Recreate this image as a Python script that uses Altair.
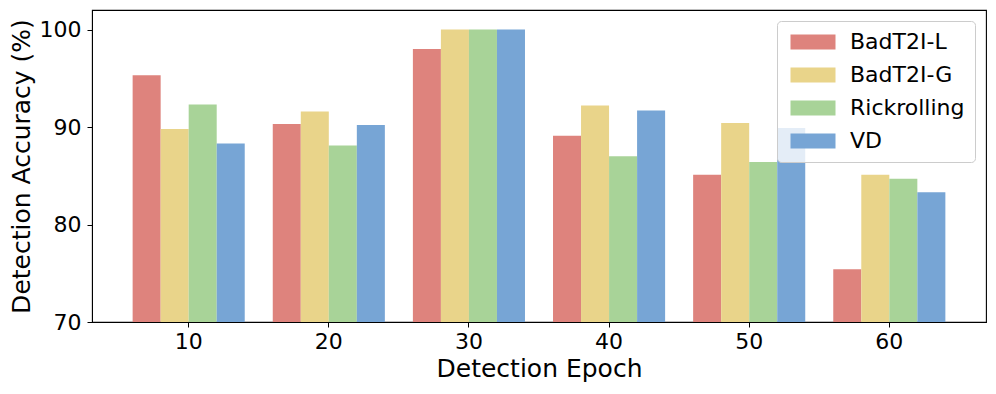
import altair as alt
import pandas as pd

epochs = ["10", "20", "30", "40", "50", "60"]
methods = ["BadT2I-L", "BadT2I-G", "Rickrolling", "VD"]
badt2i_l = [95.3, 90.3, 98.0, 89.1, 85.1, 75.4]
badt2i_g = [89.8, 91.6, 100.0, 92.2, 90.4, 85.1]
rickrolling = [92.3, 88.1, 100.0, 87.0, 86.4, 84.7]
vd = [88.3, 90.2, 100.0, 91.7, 89.9, 83.3]
colors = ["#DE837D", "#E9D48A", "#A8D398", "#77A5D5"]

series = [badt2i_l, badt2i_g, rickrolling, vd]
rows = []
for m, vals in zip(methods, series):
    for e, v in zip(epochs, vals):
        rows.append({"Epoch": e, "Method": m, "Accuracy": v})
df = pd.DataFrame(rows)

FONT = "DejaVu Sans"

chart = alt.Chart(df).mark_bar().encode(
    x=alt.X("Epoch:N", sort=epochs,
            scale=alt.Scale(paddingInner=0.2, paddingOuter=0.29),
            axis=alt.Axis(title="Detection Epoch", labelAngle=0, labelFontSize=22,
                          titleFontSize=25, labelFont=FONT, titleFont=FONT,
                          tickSize=5, labelPadding=4, tickColor="black",
                          domainColor="black", labelColor="black", titleColor="black",
                          titleFontWeight="normal", titleBaseline="alphabetic",
                          titlePadding=24, grid=False)),
    xOffset=alt.XOffset("Method:N", sort=methods),
    y=alt.Y("Accuracy:Q",
            scale=alt.Scale(domain=[70, 102], zero=False, nice=False, clamp=True),
            axis=alt.Axis(title="Detection Accuracy (%)", values=[70, 80, 90, 100],
                          labelFontSize=22, titleFontSize=25, labelFont=FONT, titleFont=FONT,
                          tickSize=5, labelPadding=6, tickColor="black",
                          domainColor="black", labelColor="black", titleColor="black",
                          titleFontWeight="normal", titleBaseline="alphabetic",
                          titlePadding=10, grid=False)),
    y2=alt.datum(70),
    color=alt.Color("Method:N", sort=methods,
                    scale=alt.Scale(domain=methods, range=colors),
                    legend=alt.Legend(title=None, orient="none", legendX=685, legendY=11,
                                      labelFontSize=22, labelFont=FONT, labelColor="black",
                                      symbolType="M-1,-1L5,-1L5,1L-1,1Z",
                                      symbolSize=225, symbolStrokeWidth=0, symbolOpacity=1,
                                      labelOffset=41, rowPadding=11, padding=10,
                                      strokeColor="#cccccc", fillColor="rgba(255,255,255,0.8)",
                                      cornerRadius=4)),
).properties(
    width=894, height=312,
    padding={"left": 84, "top": 2, "right": 2, "bottom": 64},
    autosize=alt.AutoSizeParams(type="none"),
).configure_view(
    stroke="black", strokeWidth=1.1
)

chart.save("out.html", embed_options={"renderer": "svg", "actions": False})
